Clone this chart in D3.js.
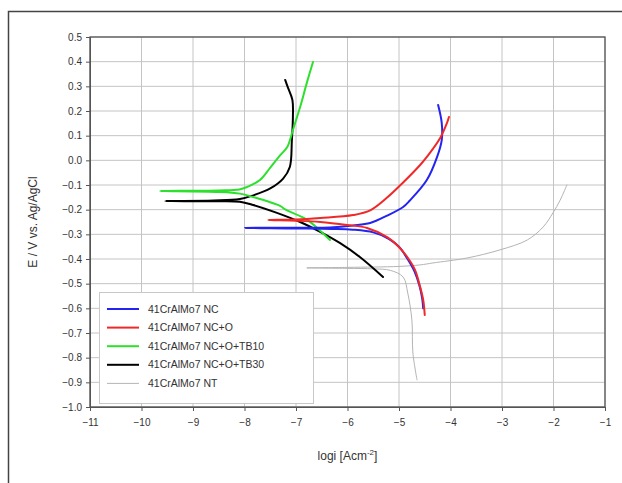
<!DOCTYPE html>
<html><head><meta charset="utf-8">
<script src="https://cdn.jsdelivr.net/npm/d3@7"></script>
<style>body{margin:0;background:#fff;} svg{display:block;font-family:"Liberation Sans",Arial,sans-serif;}</style>
</head><body>
<svg id="chart" width="622" height="483"></svg>
<script>
// ---- data (log i [A/cm2], E [V vs Ag/AgCl]) : cathodic end -> Ecorr -> anodic end
const xTicks = [-11,-10,-9,-8,-7,-6,-5,-4,-3,-2,-1];
const yTicks = [-1.0,-0.9,-0.8,-0.7,-0.6,-0.5,-0.4,-0.3,-0.2,-0.1,0.0,0.1,0.2,0.3,0.4,0.5];
const seriesNames = ["41CrAlMo7 NC","41CrAlMo7 NC+O","41CrAlMo7 NC+O+TB10","41CrAlMo7 NC+O+TB30","41CrAlMo7 NT"];
const seriesColors = ["#2424f0","#f02828","#2ee02e","#000000","#b4b4b4"];
const seriesWidths = [2,2,2,2,1];

const dataNC = [
  [-4.53,-0.600],[-4.55,-0.560],[-4.60,-0.510],[-4.70,-0.450],[-4.84,-0.398],[-5.00,-0.350],
  [-5.20,-0.318],[-5.50,-0.292],[-5.90,-0.281],[-6.30,-0.278],[-7.00,-0.276],[-7.99,-0.274],
  [-7.00,-0.273],[-6.34,-0.272],[-5.89,-0.264],[-5.56,-0.254],[-5.23,-0.224],[-4.92,-0.189],
  [-4.79,-0.163],[-4.46,-0.080],[-4.26,0.014],[-4.17,0.082],[-4.17,0.151],[-4.24,0.224]
];
const dataNCO = [
  [-4.50,-0.627],[-4.53,-0.566],[-4.59,-0.513],[-4.69,-0.444],[-4.84,-0.392],[-5.04,-0.343],
  [-5.23,-0.311],[-5.62,-0.274],[-6.01,-0.262],[-6.53,-0.250],[-7.00,-0.245],[-7.54,-0.242],
  [-7.00,-0.240],[-6.53,-0.234],[-5.89,-0.222],[-5.56,-0.203],[-5.23,-0.151],[-4.92,-0.090],
  [-4.59,-0.019],[-4.46,0.014],[-4.20,0.091],[-4.07,0.151],[-4.03,0.176]
];
const dataTB10 = [
  [-6.34,-0.323],[-6.53,-0.285],[-6.79,-0.240],[-7.20,-0.200],[-7.31,-0.185],[-7.83,-0.149],
  [-8.09,-0.135],[-8.50,-0.128],[-9.64,-0.124],
  [-8.50,-0.122],[-8.10,-0.118],[-7.95,-0.108],[-7.70,-0.080],[-7.50,-0.030],[-7.31,0.020],
  [-7.17,0.054],[-7.06,0.123],[-6.92,0.216],[-6.79,0.314],[-6.67,0.399]
];
const dataTB30 = [
  [-5.31,-0.473],[-5.76,-0.392],[-6.15,-0.335],[-6.53,-0.290],[-6.92,-0.250],[-7.37,-0.213],
  [-7.83,-0.181],[-8.09,-0.168],[-8.60,-0.166],[-9.54,-0.165],
  [-8.60,-0.163],[-8.09,-0.157],[-7.83,-0.142],[-7.50,-0.114],[-7.25,-0.074],[-7.12,-0.027],
  [-7.08,0.082],[-7.06,0.176],[-7.07,0.245],[-7.16,0.297],[-7.21,0.326]
];
const dataNT = [
  [-4.65,-0.890],[-4.73,-0.781],[-4.75,-0.647],[-4.83,-0.538],[-4.92,-0.473],[-5.17,-0.446],
  [-5.50,-0.440],[-6.00,-0.438],[-6.79,-0.436],
  [-6.00,-0.434],[-5.00,-0.430],[-4.59,-0.424],[-4.34,-0.416],[-3.68,-0.396],[-3.04,-0.363],
  [-2.51,-0.323],[-2.20,-0.270],[-2.01,-0.213],[-1.87,-0.161],[-1.74,-0.100]
];
const allSeries = [dataNC, dataNCO, dataTB10, dataTB30, dataNT];

// ---- layout
const svg = d3.select("#chart");
const pL = 90, pR = 605, pT = 37, pB = 407;
const x = d3.scaleLinear().domain([-11,-1]).range([pL,pR]);
const y = d3.scaleLinear().domain([-1.0,0.5]).range([pB,pT]);

// outer frame
svg.append("rect").attr("x",8.5).attr("y",11.5).attr("width",700).attr("height",600)
  .attr("fill","none").attr("stroke","#444").attr("stroke-width",1.5);

// grid
const grid = svg.append("g");
grid.selectAll("line.v").data(xTicks).join("line")
  .attr("x1",d=>x(d)).attr("x2",d=>x(d)).attr("y1",pT).attr("y2",pB)
  .attr("stroke","#c4c4c4").attr("stroke-width",1);
grid.selectAll("line.h").data(yTicks).join("line")
  .attr("y1",d=>y(d)).attr("y2",d=>y(d)).attr("x1",pL).attr("x2",pR)
  .attr("stroke","#c4c4c4").attr("stroke-width",1);

// axes
const fmtY = d3.format(".1f");
const yAxis = d3.axisLeft(y).tickValues(yTicks).tickSize(4).tickPadding(4)
  .tickFormat(d=> fmtY(d).replace("-0.0","0.0"));
const gy = svg.append("g").attr("transform",`translate(${pL},0)`).call(yAxis);
const xAxis = d3.axisBottom(x).tickValues(xTicks).tickSize(4).tickPadding(8).tickFormat(d3.format("d"));
const gx = svg.append("g").attr("transform",`translate(0,${pB})`).call(xAxis);
[gx,gy].forEach(g=>{
  g.select(".domain").attr("stroke","#555");
  g.selectAll(".tick line").attr("stroke","#555");
  g.selectAll(".tick text").attr("fill","#333").style("font-size","10px")
   .style("font-family","'Liberation Sans',Arial,sans-serif");
});

// plot frame
svg.append("rect").attr("x",pL).attr("y",pT).attr("width",pR-pL).attr("height",pB-pT)
  .attr("fill","none").attr("stroke","#555").attr("stroke-width",1.3);

// curves
const line = d3.line().x(d=>x(d[0])).y(d=>y(d[1])).curve(d3.curveCatmullRom.alpha(0.5));
svg.append("clipPath").attr("id","pc").append("rect")
  .attr("x",pL).attr("y",pT).attr("width",pR-pL).attr("height",pB-pT);
const curves = svg.append("g").attr("clip-path","url(#pc)");
[4,3,2,0,1].forEach(i=>{
  curves.append("path").datum(allSeries[i]).attr("d",line)
    .attr("fill","none").attr("stroke",seriesColors[i]).attr("stroke-width",seriesWidths[i])
    .attr("stroke-linejoin","round").attr("stroke-linecap","round");
});

// legend
const lg = svg.append("g");
lg.append("rect").attr("x",99.5).attr("y",292.5).attr("width",214).attr("height",111)
  .attr("fill","#fff").attr("stroke","#c8c8c8").attr("stroke-width",1);
seriesNames.forEach((name,i)=>{
  const yy = 309 + i*18.6;
  lg.append("line").attr("x1",107).attr("x2",139).attr("y1",yy).attr("y2",yy)
    .attr("stroke",seriesColors[i]).attr("stroke-width",seriesWidths[i]);
  lg.append("text").attr("x",148).attr("y",yy).attr("dy","0.35em")
    .attr("fill","#333").style("font-size","10.5px").text(name);
});

// axis titles
const xt = svg.append("text").attr("x",(pL+pR)/2).attr("y",460).attr("text-anchor","middle")
  .attr("fill","#333").style("font-size","12px");
xt.append("tspan").text("logi [Acm");
xt.append("tspan").attr("dy",-5).style("font-size","8px").text("-2");
xt.append("tspan").attr("dy",5).text("]");
svg.append("text").attr("transform",`translate(37,${(pT+pB)/2}) rotate(-90)`)
  .attr("text-anchor","middle").attr("fill","#333").style("font-size","12px")
  .text("E / V vs. Ag/AgCl");
</script>
</body></html>
